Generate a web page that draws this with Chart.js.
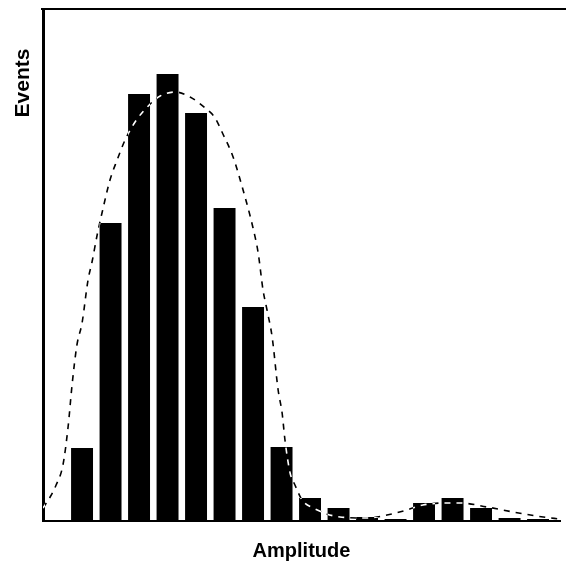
<!DOCTYPE html>
<html>
<head>
<meta charset="utf-8">
<script src="https://cdn.jsdelivr.net/npm/chart.js@4.4.1/dist/chart.umd.min.js"></script>
<style>
  html, body { margin: 0; padding: 0; background: #fff; }
  #wrap { width: 566px; height: 563px; position: relative; }
</style>
</head>
<body>
<div id="wrap"><canvas id="myChart" width="566" height="563"></canvas></div>
<script>
// histogram bins (amplitude bin index) and event counts
var bin_x = [1, 2, 3, 4, 5, 6, 7, 8, 9, 10, 11, 12, 13, 14, 15, 16, 17];
var events = [18.25, 74.5, 106.75, 111.75, 102, 78.25, 53.5, 18.5, 5.75, 3.25, 1, 0.5, 4.5, 5.75, 3.25, 0.75, 0.5];

// fitted curve (dashed)
var fit_x = [-0.37, -0.12, 0.09, 0.33, 0.51, 0.65, 0.82, 1.0, 1.21, 1.35, 1.53, 1.70, 1.98, 2.23, 2.51, 2.86, 3.39, 3.74, 4.26, 4.79, 5.32, 5.67, 5.91, 6.30, 6.65, 7.0, 7.18, 7.35, 7.49, 7.67, 7.88, 8.02, 8.12, 8.30, 8.47, 8.72, 9.11, 10.05, 11.0, 11.70, 12.40, 12.96, 13.74, 14.26, 15.21, 16.12, 17.18, 17.77];
var fit_y = [3.25, 6, 9, 14, 23.5, 34, 44, 49.5, 60.25, 64.75, 71.5, 77, 85.25, 90.25, 95.25, 99.75, 104.25, 106.25, 107.25, 106, 103.25, 100.75, 97.25, 91, 82.75, 73.25, 67, 57.75, 52.75, 46, 32.75, 27, 20.25, 12, 9, 5.25, 3.25, 1, 0.75, 1.5, 2.75, 4, 4.5, 4.5, 3.5, 2.25, 1, 0.5];

var x_min = -0.37;
var x_max = 17.77;
var y_max = 128;

function pts(xs, ys) {
    let out = [];
    for (let i = 0; i < xs.length; i++) {
        out.push({ x: xs[i], y: ys[i] });
    }
    return out;
}

// white page background, so the fit line can invert over the bars
var bg_plugin = {
    id: 'bg',
    beforeDraw: function (chart) {
        let ctx = chart.ctx;
        ctx.save();
        ctx.fillStyle = '#fff';
        ctx.fillRect(0, 0, chart.width, chart.height);
        ctx.restore();
    }
};

// dashed fit is drawn inverted: black on white, white on the bars
var invert_plugin = {
    id: 'invert',
    beforeDatasetDraw: function (chart, args) {
        if (args.index == 1) {
            chart.ctx.save();
            chart.ctx.globalCompositeOperation = 'difference';
        }
    },
    afterDatasetDraw: function (chart, args) {
        if (args.index == 1) {
            chart.ctx.restore();
        }
    }
};

var frame_plugin = {
    id: 'frame',
    afterDraw: function (chart) {
        let ctx = chart.ctx;
        let area = chart.chartArea;
        ctx.save();
        // top frame line
        ctx.strokeStyle = '#000';
        ctx.lineWidth = 2;
        ctx.beginPath();
        ctx.moveTo(area.left - 2, area.top);
        ctx.lineTo(chart.width, area.top);
        ctx.stroke();
        // y title, up near the top
        ctx.fillStyle = '#000';
        ctx.font = 'bold 21px "Liberation Sans", Arial, sans-serif';
        ctx.textAlign = 'center';
        ctx.textBaseline = 'middle';
        ctx.translate(23, 83);
        ctx.rotate(-Math.PI / 2);
        ctx.fillText('Events', 0, 0);
        ctx.restore();
    }
};

var ctx = document.getElementById('myChart');
var chart = new Chart(ctx, {
    type: 'bar',
    data: {
        datasets: [
            {
                type: 'bar',
                label: 'events',
                data: pts(bin_x, events),
                backgroundColor: '#000',
                borderWidth: 0,
                barPercentage: 0.77,
                categoryPercentage: 1.0,
                order: 1
            },
            {
                type: 'line',
                label: 'fit',
                data: pts(fit_x, fit_y),
                borderColor: '#fff',
                borderWidth: 1.6,
                borderDash: [6, 6],
                pointRadius: 0,
                fill: false,
                cubicInterpolationMode: 'monotone',
                order: 0
            }
        ]
    },
    options: {
        responsive: false,
        animation: false,
        layout: { padding: { top: 9, right: 6, left: 0, bottom: 0 } },
        scales: {
            x: {
                type: 'linear',
                min: x_min,
                max: x_max,
                offset: false,
                grid: { display: false },
                border: { display: true, color: '#000', width: 2 },
                ticks: { display: false },
                title: {
                    display: true,
                    text: 'Amplitude',
                    color: '#000',
                    font: { family: '"Liberation Sans", Arial, sans-serif', size: 20, weight: 'bold' },
                    padding: { top: 16, bottom: 0 }
                },
                afterFit: function (s) { s.height = 42; }
            },
            y: {
                min: 0,
                max: y_max,
                grid: { display: false },
                border: { display: true, color: '#000', width: 3 },
                ticks: { display: false },
                afterFit: function (s) { s.width = 43; }
            }
        },
        plugins: {
            legend: { display: false },
            tooltip: { enabled: false }
        }
    },
    plugins: [bg_plugin, invert_plugin, frame_plugin]
});
</script>
</body>
</html>
